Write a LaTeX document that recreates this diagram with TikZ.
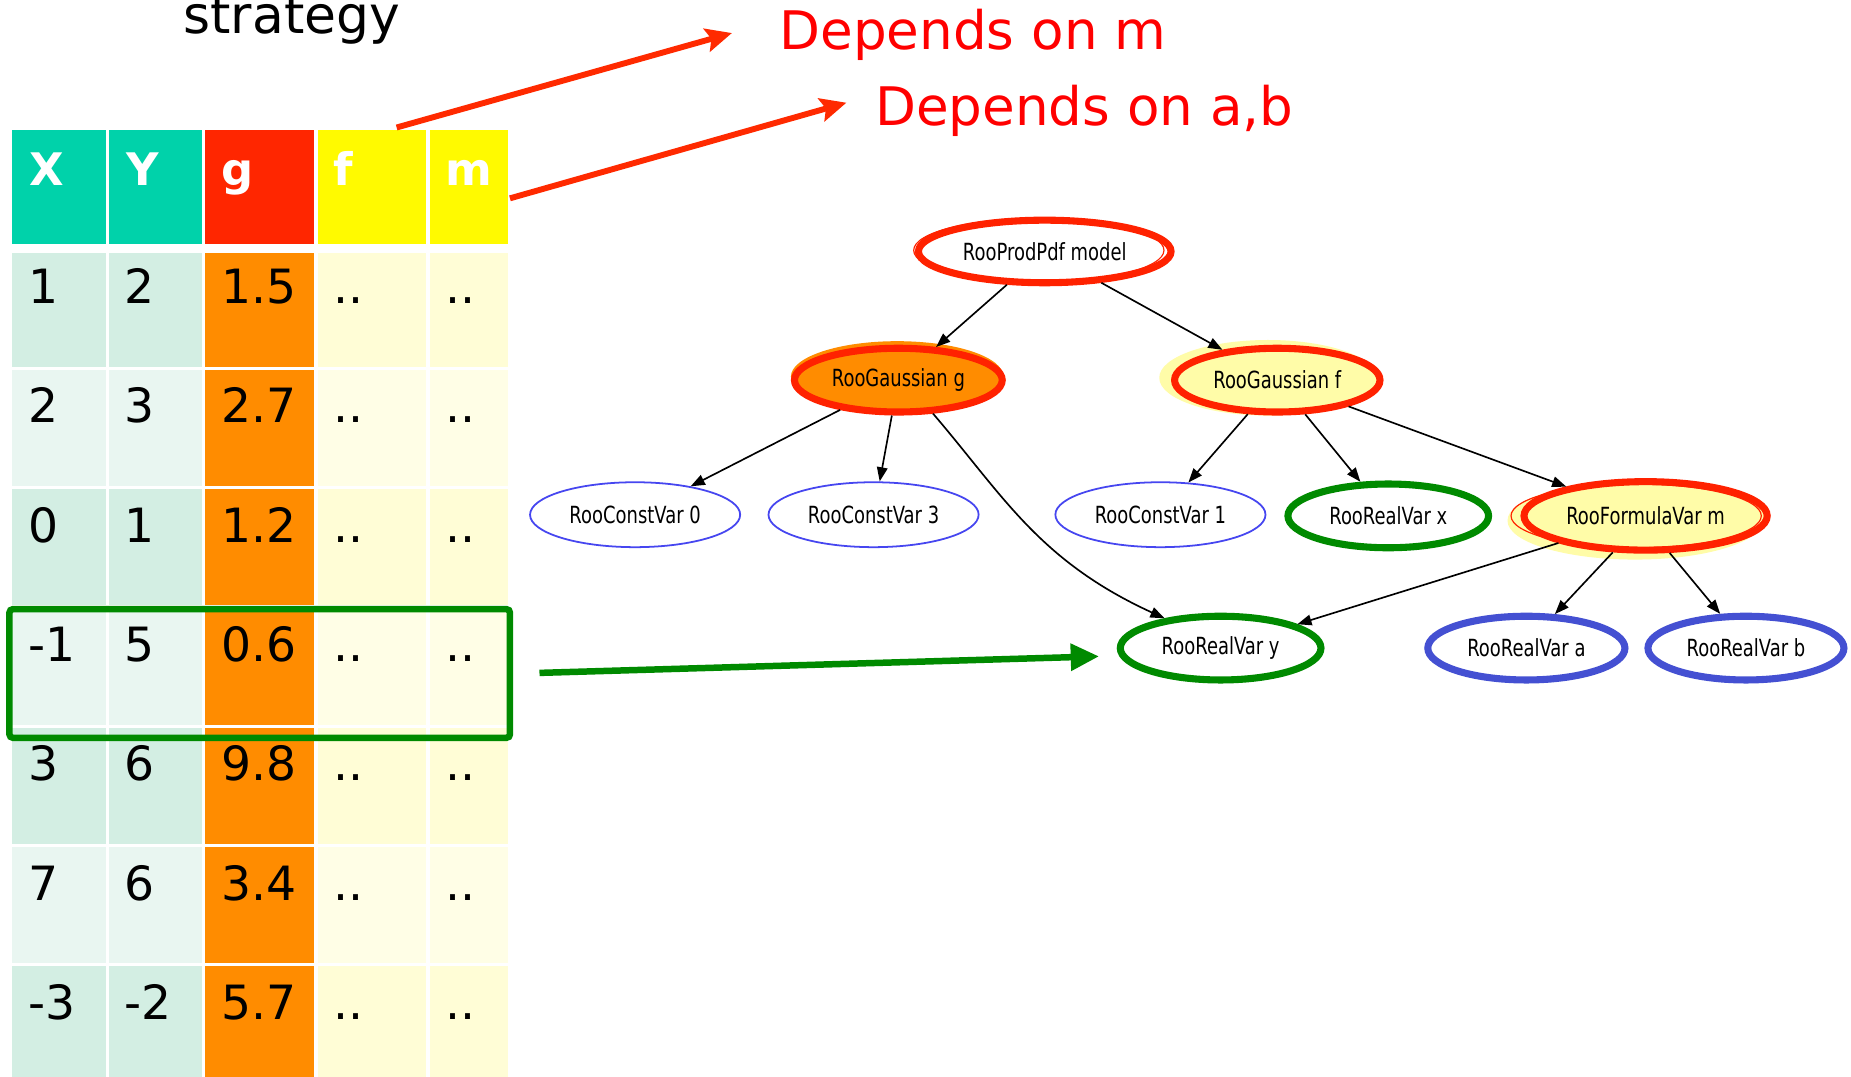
\documentclass[tikz,border=0pt]{standalone}
\usepackage{fontspec}
\setmainfont{DejaVu Sans}
\newfontfamily\gvfont[FakeStretch=0.76]{DejaVu Sans}
\usetikzlibrary{shapes.geometric,arrows.meta}
\definecolor{hTeal}{HTML}{00D2AA}
\definecolor{hRed}{HTML}{FF2600}
\definecolor{hYel}{HTML}{FFFA00}
\definecolor{dTealA}{HTML}{D3EEE3}
\definecolor{dTealB}{HTML}{E9F6F1}
\definecolor{dOrange}{HTML}{FF8C00}
\definecolor{dYelA}{HTML}{FFFDD6}
\definecolor{dYelB}{HTML}{FFFEE6}
\definecolor{aRed}{HTML}{FF2A00}
\definecolor{tRed}{HTML}{FF0000}
\definecolor{selGreen}{HTML}{008A00}
\definecolor{nRed}{HTML}{FF2200}
\definecolor{nYel}{HTML}{FFFCA8}
\definecolor{nBlueThin}{HTML}{4646F0}
\definecolor{nBlue}{HTML}{4450D2}
\tikzset{
  hdr/.style={anchor=base west, inner sep=0pt, text=white, font=\bfseries\fontsize{19}{22}\selectfont},
  cell/.style={anchor=base west, inner sep=0pt, text=black, font=\fontsize{20}{24}\selectfont},
  bigred/.style={anchor=base west, inner sep=0pt, text=tRed, font=\fontsize{22.5}{27}\selectfont},
  redarrow/.style={draw=aRed, line width=2.5pt, -{Stealth[length=11pt,width=10pt,inset=2pt]}},
  greenarrow/.style={draw=selGreen, line width=2.75pt, -{Triangle[length=12pt,width=11pt]}},
  gv/.style={ellipse, inner sep=0pt, text=black, font=\gvfont\fontsize{10}{12}\selectfont},
  redthick/.style={gv, draw=nRed, line width=3pt},
  greenthick/.style={gv, draw=selGreen, line width=3pt, fill=white},
  bluethick/.style={gv, draw=nBlue, line width=3pt, fill=white},
  bluethin/.style={gv, draw=nBlueThin, line width=0.75pt, fill=white},
  edge/.style={draw=black, line width=0.7pt, -{Triangle[length=6pt,width=4.5pt]}},
}
\begin{document}
\begin{tikzpicture}[x=0.5pt,y=-0.5pt]
\useasboundingbox (0,0) rectangle (1568,912);
\clip (0,0) rectangle (1568,912);
\fill[white] (0,0) rectangle (1568,912);

% title fragment (cut off at the top edge, as in the reference)
\node[anchor=base west, inner sep=0pt, font=\fontsize{22}{26}\selectfont] (strat) at (155,28) {strategy};

% table header
\fill[hTeal] (10,110) rectangle (90,207);
\fill[hTeal] (92,110) rectangle (171,207);
\fill[hRed] (174,110) rectangle (266,207);
\fill[hYel] (269,110) rectangle (361,207);
\fill[hYel] (364,110) rectangle (430,207);
\node[hdr] (hx) at (25,157) {X};
\node[hdr] (hy) at (107,157) {Y};
\node[hdr] (hg) at (187,157) {g};
\node[hdr] (hf) at (282,157) {f};
\node[hdr] (hm) at (377,157) {m};

% table body
\foreach \vx/\vy/\vg [count=\k] in {1/2/1.5, 2/3/2.7, 0/1/1.2, -1/5/0.6, 3/6/9.8, 7/6/3.4, -3/-2/5.7}{
  \pgfmathsetmacro\rtop{\k==1 ? 214 : 212+(\k-1)*101.1}
  \pgfmathsetmacro\rbot{212+(\k-1)*101.1+98.6}
  \pgfmathsetmacro\rbase{257+(\k-1)*101.1}
  \ifodd\k \def\cxy{dTealA}\def\cfm{dYelA}\else \def\cxy{dTealB}\def\cfm{dYelB}\fi
  \fill[\cxy] (10,\rtop) rectangle (90,\rbot);
  \fill[\cxy] (92,\rtop) rectangle (171,\rbot);
  \fill[dOrange] (174,\rtop) rectangle (266,\rbot);
  \fill[\cfm] (269,\rtop) rectangle (361,\rbot);
  \fill[\cfm] (364,\rtop) rectangle (430,\rbot);
  \node[cell] (cx\k) at (24,\rbase) {\vx};
  \node[cell] (cy\k) at (105,\rbase) {\vy};
  \node[cell] (cg\k) at (187,\rbase) {\vg};
  \node[cell] (cf\k) at (282,\rbase) {..};
  \node[cell] (cm\k) at (377,\rbase) {..};
}

% selection box
\draw[selGreen, line width=2.75pt, rounded corners=1.5pt] (8,516) rectangle (432,625);

% red annotations
\node[bigred] (dm) at (660,42) {Depends on m};
\node[bigred] (dab) at (741,106) {Depends on a,b};
\coordinate (fTop) at (336,108);
\coordinate (mRight) at (432,168);
\coordinate (tipM) at (620,28);
\coordinate (tipAB) at (717,87);
\draw[redarrow] (fTop) -- (tipM);
\draw[redarrow] (mRight) -- (tipAB);

% graph decorations (offset duplicates)
\fill[dOrange] (760,319) ellipse [x radius=45pt, y radius=15pt];
\fill[nYel] (1074,320) ellipse [x radius=46pt, y radius=16pt];
\fill[nYel] (1385,441) ellipse [x radius=54pt, y radius=16.5pt];

% graph nodes
\node[redthick, fill=white, minimum width=107pt, minimum height=26.5pt] (model) at (885,213) {RooProdPdf model};
\node[redthick, fill=dOrange, minimum width=88pt, minimum height=27pt] (g) at (761,322) {RooGaussian g};
\node[redthick, fill=nYel, minimum width=87pt, minimum height=27pt] (f) at (1082,322) {RooGaussian f};
\node[bluethin, minimum width=89pt, minimum height=27.5pt] (c0) at (538,436) {RooConstVar 0};
\node[bluethin, minimum width=89pt, minimum height=27.5pt] (c3) at (740,436) {RooConstVar 3};
\node[bluethin, minimum width=89pt, minimum height=27.5pt] (c1) at (983,436) {RooConstVar 1};
\node[greenthick, minimum width=85pt, minimum height=27pt] (x) at (1176,437) {RooRealVar x};
\node[redthick, fill=nYel, minimum width=103pt, minimum height=29pt] (m) at (1394,437) {RooFormulaVar m};
\node[greenthick, minimum width=85pt, minimum height=27pt] (yv) at (1034,549) {RooRealVar y};
\node[bluethick, minimum width=83.5pt, minimum height=27pt] (a) at (1293,549) {RooRealVar a};
\node[bluethick, minimum width=83pt, minimum height=27pt] (b) at (1479,549) {RooRealVar b};

% thin offset outlines
\draw[nRed, line width=0.5pt] (880,212) ellipse [x radius=53pt, y radius=13.5pt];
\draw[nRed, line width=0.5pt] (1386,437) ellipse [x radius=53pt, y radius=13.5pt];

% edges
\draw[edge] (model) -- (g);
\draw[edge] (model) -- (f);
\draw[edge] (g) -- (c0);
\draw[edge] (g) -- (c3);
\draw[edge] (g.-44) .. controls (850,420) and (880,475) .. (yv.152);
\draw[edge] (f) -- (c1);
\draw[edge] (f) -- (x);
\draw[edge] (f) -- (m);
\draw[edge] (m) -- (yv);
\draw[edge] (m.-132) -- (a.50);
\draw[edge] (m.-57) -- (b.127);

% green arrow
\coordinate (selOut) at (457,570);
\coordinate (tipY) at (931,556);
\draw[greenarrow] (selOut) -- (tipY);
\end{tikzpicture}
\end{document}
